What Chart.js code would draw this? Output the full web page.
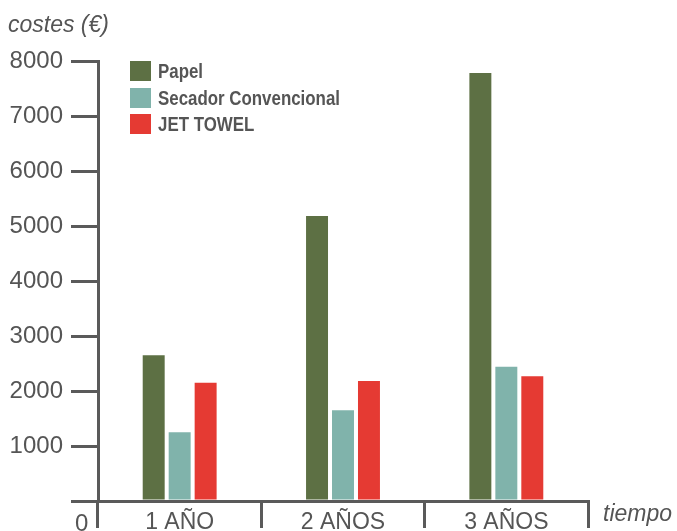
<!DOCTYPE html>
<html>
<head>
<meta charset="utf-8">
<script src="https://cdn.jsdelivr.net/npm/chart.js@4"></script>
<style>
  html, body { margin: 0; padding: 0; background: #fff; }
  #wrap { position: relative; width: 677px; height: 531px; }
  #legend { position: absolute; left: 130px; top: 61px; font-family: "Liberation Sans", Arial, sans-serif; font-weight: bold; font-size: 21px; color: #555; }
  #legend div { display: flex; align-items: center; height: 20px; margin-bottom: 6.5px; white-space: nowrap; }
  #legend span.box { display: inline-block; width: 21px; height: 20px; margin-right: 7px; flex: none; }
  #legend span.txt { display: inline-block; transform-origin: left center; }
</style>
</head>
<body>
<div id="wrap">
  <canvas id="chart" width="677" height="531"></canvas>
  <div id="legend"></div>
</div>
<script>
const categories = ["1 AÑO", "2 AÑOS", "3 AÑOS"];
const seriesNames = ["Papel", "Secador Convencional", "JET TOWEL"];
const papel = [2650, 5180, 7780];
const secador = [1250, 1650, 2440];
const jetTowel = [2150, 2180, 2270];
const yTicks = [0, 1000, 2000, 3000, 4000, 5000, 6000, 7000, 8000];
const colors = ["#5d7044", "#80b3ab", "#e53a33"];

const axisColor = "#5a5a5a";
const textColor = "#555";
const font = "Liberation Sans, Arial, sans-serif";

// legend in html, condensed text look
const legendEl = document.getElementById("legend");
seriesNames.forEach((n, i) => {
  const row = document.createElement("div");
  row.innerHTML = `<span class="box" style="background:${colors[i]}"></span><span class="txt">${n}</span>`;
  legendEl.appendChild(row);
});
const txts = legendEl.querySelectorAll(".txt");
const squeeze = 182 / txts[1].getBoundingClientRect().width;
txts.forEach(t => t.style.transform = `scaleX(${squeeze})`);

// extra texts: axis titles and the lone 0
const extraText = {
  id: "extraText",
  afterDraw(chart) {
    const c = chart.ctx;
    c.save();
    c.fillStyle = textColor;
    c.font = "italic 23px " + font;
    c.textBaseline = "alphabetic";
    c.textAlign = "left";
    c.fillText("costes (€)", 8, 32);
    c.fillText("tiempo", 603, 521);
    c.font = "24px " + font;
    c.fillText(String(yTicks[0]), 75, 531);
    c.restore();
  }
};

new Chart(document.getElementById("chart"), {
  type: "bar",
  data: {
    labels: categories,
    datasets: [
      { label: seriesNames[0], data: papel, backgroundColor: colors[0] },
      { label: seriesNames[1], data: secador, backgroundColor: colors[1] },
      { label: seriesNames[2], data: jetTowel, backgroundColor: colors[2] }
    ]
  },
  options: {
    responsive: false,
    animation: false,
    layout: { padding: { left: 0, right: 89, top: 61, bottom: 0 } },
    datasets: { bar: { categoryPercentage: 0.477, barPercentage: 0.846 } },
    plugins: { legend: { display: false }, tooltip: { enabled: false } },
    scales: {
      x: {
        grid: { drawOnChartArea: false, offset: true, tickLength: 27, color: axisColor, lineWidth: 3 },
        border: { color: axisColor, width: 3 },
        ticks: { color: textColor, font: { family: font, size: 23 }, padding: -19, maxRotation: 0 },
        afterFit(s) { s.height = 30; }
      },
      y: {
        min: 0, max: 8000,
        afterBuildTicks(s) { s.ticks = yTicks.map(v => ({ value: v })); },
        grid: { drawOnChartArea: false, tickLength: 27, color: axisColor, lineWidth: 3 },
        border: { color: axisColor, width: 3 },
        ticks: {
          color: textColor, font: { family: font, size: 24 }, padding: 8,
          callback: v => v === 0 ? "" : v
        },
        afterFit(s) { s.width = 98; }
      }
    }
  },
  plugins: [extraText]
});
</script>
</body>
</html>
